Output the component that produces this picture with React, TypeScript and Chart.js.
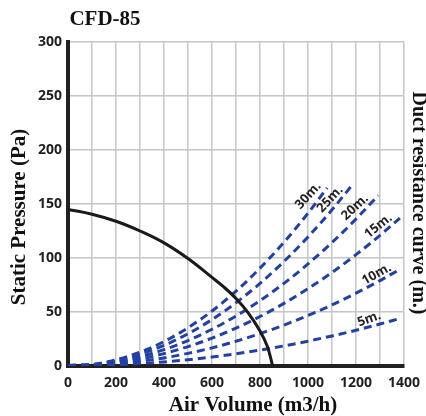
import React, { useEffect, useRef } from "react";
import { Chart, registerables } from "chart.js";
Chart.register(...registerables);

const chartTitle = "CFD-85";
const xTitle = "Air Volume (m3/h)";
const yTitle = "Static Pressure (Pa)";
const rightTitle = "Duct resistance curve (m.)";

// Fan performance curve
const fanX = [0, 100, 200, 300, 400, 500, 600, 650, 700, 750, 800, 830, 853];
const fanY = [145, 140.5, 134, 125, 114, 99.5, 82, 73, 62.5, 49.5, 32.5, 18.5, 0];

// Duct resistance curves
const duct5X = [0, 100, 200, 300, 400, 500, 600, 700, 800, 900, 1000, 1100, 1200, 1300, 1375];
const duct5Y = [0.5, 0.7, 1.2, 2.3, 3.8, 5.8, 8.3, 11.3, 14.7, 18.6, 23, 27.8, 33.1, 38.9, 43.5];
const duct10X = [0, 100, 200, 300, 400, 500, 600, 700, 800, 900, 1000, 1100, 1200, 1300, 1383];
const duct10Y = [0.5, 0.8, 2, 4.3, 7.5, 11.7, 16.8, 22.9, 30, 37.9, 46.8, 56.6, 67.4, 79.1, 89.5];
const duct15X = [0, 100, 200, 300, 400, 500, 600, 700, 800, 900, 1000, 1100, 1200, 1300, 1383];
const duct15Y = [0.5, 0.9, 2.9, 6.4, 11.5, 17.9, 25.8, 35.1, 45.8, 58, 71.6, 86.6, 103.1, 121, 137];
const duct20X = [0, 100, 200, 300, 400, 500, 600, 700, 800, 900, 1000, 1100, 1200, 1293];
const duct20Y = [0.5, 1, 3.8, 8.5, 15.1, 23.6, 34, 46.3, 60.5, 76.5, 94.5, 114.3, 136.1, 158];
const duct25X = [0, 100, 200, 300, 400, 500, 600, 700, 800, 900, 1000, 1100, 1189];
const duct25Y = [0.5, 1.2, 4.8, 10.8, 19.1, 29.9, 43, 58.6, 76.5, 96.8, 119.5, 144.6, 169];
const duct30X = [0, 100, 200, 300, 400, 500, 600, 700, 800, 900, 1000, 1080];
const duct30Y = [0.5, 1.4, 5.7, 12.7, 22.6, 35.4, 50.9, 69.3, 90.6, 114.6, 141.5, 165];

const ductNames = ["5m.", "10m.", "15m.", "20m.", "25m.", "30m."];
const ductXs = [duct5X, duct10X, duct15X, duct20X, duct25X, duct30X];
const ductYs = [duct5Y, duct10Y, duct15Y, duct20Y, duct25Y, duct30Y];
// label anchors (data units) and rotation (degrees)
const labelX = [1255, 1286, 1293, 1196, 1092, 1001];
const labelY = [43.5, 85, 129.6, 147, 154.4, 157.7];
const labelAngle = [-20, -29, -39, -43, -47, -48];

const yTicks = { min: 0, max: 300, step: 50 };
const xTicks = { min: 0, max: 1400, step: 100, labelEvery: 200 };

const serif = '"Liberation Serif", "Times New Roman", serif';
const sans = '"Open Sans", "Noto Sans", sans-serif';
const ink = "#231f20";
const blue = "#2440a0";

const toPts = (xs: number[], ys: number[]) => xs.map((x, i) => ({ x, y: ys[i] }));

export default function App() {
  const ref = useRef<HTMLCanvasElement | null>(null);
  useEffect(() => {
    document.body.style.margin = "0";
    const canvas = ref.current;
    if (!canvas) return;

    const textPlugin = {
      id: "texts",
      afterDraw(chart: any) {
        const ctx = chart.ctx;
        const xs = chart.scales.x;
        const ys = chart.scales.y;
        ctx.save();
        ctx.fillStyle = "#111";
        ctx.textAlign = "center";
        ctx.textBaseline = "middle";
        ctx.font = `bold 21px ${serif}`;
        ctx.fillText(chartTitle, 105, 20);
        ctx.font = `bold 21px ${serif}`;
        ctx.fillText(xTitle, 253, 406);
        ctx.save();
        ctx.translate(20, 217);
        ctx.rotate(-Math.PI / 2);
        ctx.font = `bold 21px ${serif}`;
        ctx.fillText(yTitle, 0, 0);
        ctx.restore();
        ctx.save();
        ctx.translate(418, 203);
        ctx.rotate(Math.PI / 2);
        ctx.font = `bold 20px ${serif}`;
        ctx.fillText(rightTitle, 0, 0);
        ctx.restore();
        ctx.fillStyle = ink;
        ctx.font = `bold 13px ${sans}`;
        ductNames.forEach((n, i) => {
          ctx.save();
          ctx.translate(xs.getPixelForValue(labelX[i]), ys.getPixelForValue(labelY[i]));
          ctx.rotate((labelAngle[i] * Math.PI) / 180);
          ctx.fillText(n, 0, 0);
          ctx.restore();
        });
        ctx.restore();
      },
    };

    const ductSets = ductNames.map((n, i) => ({
      label: n,
      data: toPts(ductXs[i], ductYs[i]),
      borderColor: blue,
      borderWidth: 3,
      borderDash: [8, 5],
      pointRadius: 0,
      fill: false,
      cubicInterpolationMode: "monotone" as const,
    }));

    const chart = new Chart(canvas, {
      type: "line",
      data: {
        datasets: [
          {
            label: "Fan",
            data: toPts(fanX, fanY),
            borderColor: "#1a1a1a",
            borderWidth: 3,
            pointRadius: 0,
            fill: false,
            tension: 0.4,
          },
          ...ductSets,
        ],
      },
      options: {
        responsive: false,
        animation: false,
        devicePixelRatio: 1,
        layout: { padding: { top: 42, right: 22, left: 0, bottom: 0 } },
        plugins: { legend: { display: false }, tooltip: { enabled: false }, title: { display: false } },
        scales: {
          x: {
            type: "linear",
            min: xTicks.min,
            max: xTicks.max,
            afterFit: (s: any) => {
              s.height = 50;
              s.paddingLeft = 0;
              s.paddingRight = 0;
            },
            ticks: {
              stepSize: xTicks.step,
              autoSkip: false,
              maxRotation: 0,
              padding: 9,
              color: ink,
              font: { family: sans, size: 14, weight: "bold" },
              callback: (v: any) => (Number(v) % xTicks.labelEvery === 0 ? String(v) : ""),
            },
            grid: { color: "#c6c6ca", lineWidth: 1.5, drawTicks: false },
            border: { display: true, color: ink, width: 4 },
          },
          y: {
            type: "linear",
            min: yTicks.min,
            max: yTicks.max,
            afterFit: (s: any) => {
              s.width = 68;
            },
            ticks: {
              stepSize: yTicks.step,
              padding: 6,
              color: ink,
              font: { family: sans, size: 14, weight: "bold" },
            },
            grid: { color: "#c6c6ca", lineWidth: 1.5, drawTicks: false },
            border: { display: true, color: ink, width: 4 },
          },
        },
      },
      plugins: [textPlugin],
    });
    return () => chart.destroy();
  }, []);
  return <canvas ref={ref} width={426} height={416} style={{ display: "block" }} />;
}
